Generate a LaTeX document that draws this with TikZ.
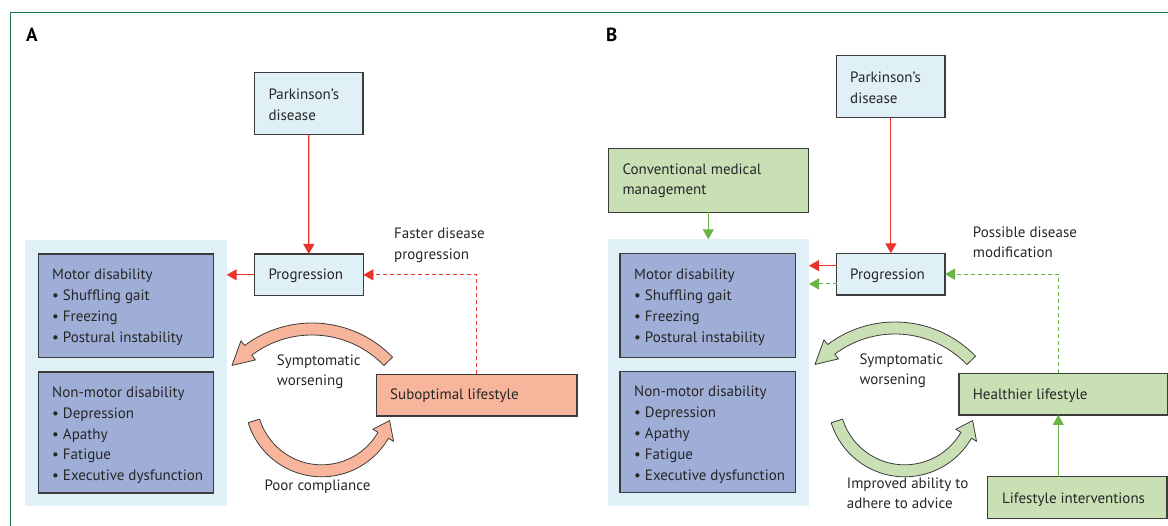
\documentclass[tikz,border=0pt]{standalone}
\usepackage{fontspec}
\setmainfont{PT Sans}
\usetikzlibrary{arrows.meta,calc}
\definecolor{lblue}{HTML}{DFF0F7}
\definecolor{peri}{HTML}{9EAED6}
\definecolor{salmon}{HTML}{F7B69B}
\definecolor{lgreen}{HTML}{C9E0B5}
\definecolor{bred}{HTML}{E8342A}
\definecolor{agreen}{HTML}{6AB446}
\definecolor{framegreen}{HTML}{1E7D46}
\definecolor{edgegray}{HTML}{3C3C3C}
\newcommand{\boxnode}[6]{\node[box,fill=#2,anchor=north west,minimum width={#5-#3},minimum height={#6-#4}] (#1) at (#3,-#4) {};}
\newcommand{\bandarr}[8]{%
  \pgfmathsetmacro{\ro}{#3+#4}\pgfmathsetmacro{\ri}{#3-#4}%
  \pgfmathsetmacro{\rbo}{#3+2*#4}\pgfmathsetmacro{\rbi}{#3-2*#4}%
  \filldraw[fill=#8, draw=edgegray, line width=0.8pt, line join=round, shift={(#1,#2)}]
    (#5:\ro) arc[start angle=#5, end angle=#6, radius=\ro] -- (#6:\rbo) -- (#7:#3) -- (#6:\rbi) -- (#6:\ri)
    arc[start angle=#6, end angle=#5, radius=\ri] -- cycle;}
\begin{document}
\begin{tikzpicture}[x=1pt,y=1pt,
  box/.style={draw=edgegray, line width=1.2pt, inner sep=0pt, outer sep=0pt},
  txt/.style={anchor=base west, inner sep=0pt, font=\fontsize{15}{18}\selectfont, text=black!85},
  lbl/.style={anchor=base west, inner sep=0pt, font=\fontsize{19}{22}\selectfont\bfseries},
  tip/.style={-{Triangle[length=10pt,width=11pt]}},
  redar/.style={tip, draw=bred, line width=1.2pt},
  grnar/.style={tip, draw=agreen, line width=1.2pt},
  dashline/.style={line width=1pt, dash pattern=on 4pt off 3pt}]
\useasboundingbox (0,0) rectangle (1168,-526);
\draw[framegreen, line width=1.2pt] (10.3,-540) -- (10.3,-12.3) -- (1180,-12.3);

% ---------------- Panel A ----------------
\node[lbl] (labA) at (26,-42) {A};
\fill[lblue] (25,-240) rectangle (226.7,-506);
\coordinate (panelAne) at (226.7,-240);
\boxnode{pdA}{lblue}{254.5}{72.3}{363}{134.7}
\boxnode{progA}{lblue}{254.3}{254}{363.3}{295.7}
\boxnode{motA}{peri}{38.3}{254}{213.3}{357.7}
\boxnode{nmA}{peri}{38.3}{372}{213.3}{493}
\boxnode{subA}{salmon}{376.7}{374.3}{577}{416}

\bandarr{312}{-435}{106}{6}{44}{127}{139}{salmon}
\bandarr{321.7}{-399.8}{71}{6}{197.3}{330}{343}{salmon}

\node[txt] (tpdA1) at (268.3,-100) {Parkinson’s};
\node[txt] (tpdA2) at (268.3,-120.7) {disease};
\node[txt] (tprogA) at (268.3,-280) {Progression};
\node[txt] (tfa1) at (394,-238.5) {Faster disease};
\node[txt] (tfa2) at (394,-259.3) {progression};
\node[txt] (tmA1) at (52,-280) {Motor disability};
\node[txt] (tmA2) at (52,-300.7) {• Shuffling gait};
\node[txt] (tmA3) at (52,-321.7) {• Freezing};
\node[txt] (tmA4) at (52,-342.7) {• Postural instability};
\node[txt] (tnA1) at (52,-397.7) {Non-motor disability};
\node[txt] (tnA2) at (52,-418.3) {• Depression};
\node[txt] (tnA3) at (52,-439.3) {• Apathy};
\node[txt] (tnA4) at (52,-460) {• Fatigue};
\node[txt] (tnA5) at (52,-480.7) {• Executive dysfunction};
\node[txt] (tswA1) at (276.7,-366) {Symptomatic};
\node[txt] (tswA2) at (276.7,-386) {worsening};
\node[txt] (tsub) at (390,-400) {Suboptimal lifestyle};
\node[txt] (tpc) at (264.3,-490) {Poor compliance};

\draw[redar] (pdA.south) -- (progA.north);
\draw[redar] (progA.west) -- (progA.west -| panelAne);
\draw[redar, dashline] (subA.north) |- (progA.east);

% ---------------- Panel B ----------------
\node[lbl] (labB) at (606,-42) {B};
\fill[lblue] (607.5,-239.3) rectangle (809,-506);
\coordinate (panelBne) at (809,-239.3);
\boxnode{pdB}{lblue}{836.7}{55.3}{945}{117.7}
\boxnode{conv}{lgreen}{608.3}{148.3}{808.3}{212.3}
\boxnode{progB}{lblue}{836.7}{253.3}{945}{295}
\boxnode{motB}{peri}{620}{253.3}{795.7}{357.3}
\boxnode{nmB}{peri}{620}{371.3}{795.7}{492.7}
\boxnode{healthy}{lgreen}{959}{373.3}{1167.3}{415}
\boxnode{lint}{lgreen}{987.7}{476.7}{1167}{518.3}

\bandarr{895}{-434}{106}{6}{44}{127}{139}{lgreen}
\bandarr{904.7}{-399.8}{71}{6}{197.3}{330}{343}{lgreen}

\node[txt] (tpdB1) at (850,-83) {Parkinson’s};
\node[txt] (tpdB2) at (850,-103.5) {disease};
\node[txt] (tconv1) at (622.3,-174.5) {Conventional medical};
\node[txt] (tconv2) at (622.3,-195) {management};
\node[txt] (tprogB) at (850,-279.3) {Progression};
\node[txt] (tpd1) at (972.7,-237.5) {Possible disease};
\node[txt] (tpd2) at (972.7,-258) {modification};
\node[txt] (tmB1) at (634,-279.5) {Motor disability};
\node[txt] (tmB2) at (634,-300.2) {• Shuffling gait};
\node[txt] (tmB3) at (634,-321.2) {• Freezing};
\node[txt] (tmB4) at (634,-342.2) {• Postural instability};
\node[txt] (tnB1) at (634,-397) {Non-motor disability};
\node[txt] (tnB2) at (634,-417.7) {• Depression};
\node[txt] (tnB3) at (634,-438.7) {• Apathy};
\node[txt] (tnB4) at (634,-459.4) {• Fatigue};
\node[txt] (tnB5) at (634,-480.1) {• Executive dysfunction};
\node[txt] (tswB1) at (859.3,-364.8) {Symptomatic};
\node[txt] (tswB2) at (859.3,-385) {worsening};
\node[txt] (thl) at (972.7,-400) {Healthier lifestyle};
\node[txt] (tia1) at (846.7,-488.3) {Improved ability to};
\node[txt] (tia2) at (846.7,-508.5) {adhere to advice};
\node[txt] (tli) at (1002,-503.3) {Lifestyle interventions};

\coordinate (hx) at (1058.3,-300);
\draw[redar] (pdB.south) -- (progB.north);
\draw[redar] ([yshift=8.5pt]progB.west) -- ([yshift=8.5pt]progB.west -| panelBne);
\draw[grnar, dashline] ([yshift=-9.8pt]progB.west) -- ([yshift=-9.8pt]progB.west -| panelBne);
\draw[grnar] (conv.south) -- (conv.south |- panelBne);
\draw[grnar, dashline] (healthy.north -| hx) |- (progB.east);
\draw[grnar] (lint.north -| hx) -- (healthy.south -| hx);
\end{tikzpicture}
\end{document}
